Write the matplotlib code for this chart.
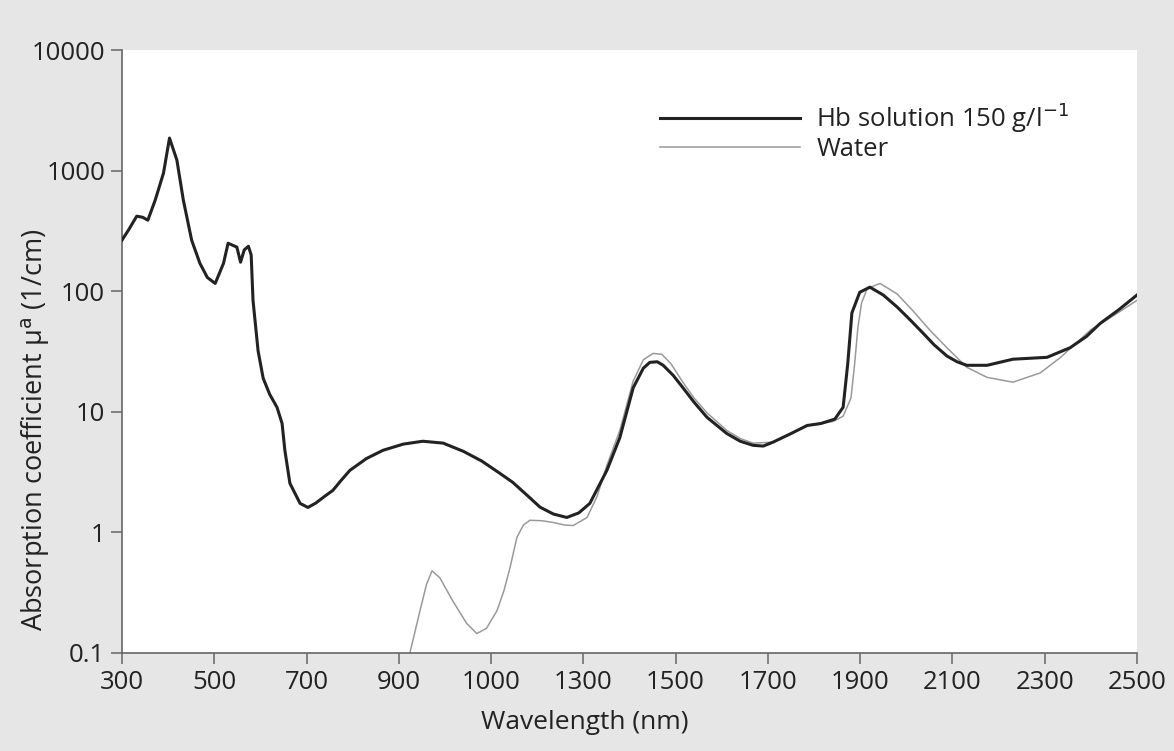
import matplotlib
matplotlib.use("Agg")
import matplotlib.pyplot as plt

plt.rcParams['font.family'] = ['Open Sans', 'DejaVu Sans']

# Hb solution 150 g/l^-1
hb_wl = [300, 314, 332, 345, 356, 372, 390, 403, 419, 433, 451, 469, 485, 502,
         520, 530, 549, 557, 565, 574, 580, 584, 595, 606, 620, 636, 647, 653,
         664, 686, 703, 720, 740, 757, 775, 794, 830, 866, 910, 952, 996, 1040,
         1080, 1119, 1147, 1180, 1206, 1235, 1264, 1290, 1314, 1351, 1379, 1408,
         1430, 1444, 1460, 1473, 1495, 1516, 1540, 1568, 1611, 1640, 1668,
         1690, 1711, 1750, 1785, 1815, 1845, 1863, 1873, 1882, 1899, 1921, 1950,
         1980, 2010, 2036, 2060, 2088, 2110, 2131, 2175, 2231, 2305, 2355, 2390,
         2420, 2460, 2500]
hb_mu = [265, 321, 419, 410, 388, 569, 955, 1862, 1222, 569, 265, 170, 130, 116,
         170, 250, 232, 174, 220, 236, 200, 84, 32, 19, 14, 10.9, 8.0, 4.8,
         2.55, 1.74, 1.61, 1.75, 2.0, 2.23, 2.7, 3.27, 4.1, 4.8, 5.4, 5.7, 5.5, 4.7,
         3.9, 3.09, 2.6, 2.0, 1.62, 1.42, 1.33, 1.45, 1.74, 3.27, 6.1, 15.8,
         23, 25.7, 26, 24.3, 20, 15.8, 12, 9.0, 6.6, 5.7, 5.27,
         5.2, 5.6, 6.6, 7.7, 8.0, 8.7, 10.9, 25, 66, 98, 108, 93,
         74, 57, 45, 36, 29, 26, 24.3, 24.3, 27.3, 28.3, 34, 42,
         54, 70, 93]

# Water
w_wl = [900, 924, 946, 960, 972, 989, 1017, 1047, 1069, 1090, 1113, 1128, 1141,
        1156, 1170, 1184, 1210, 1234, 1260, 1278, 1308, 1330, 1351, 1379, 1408,
        1430, 1451, 1470, 1490, 1516, 1540, 1568, 1611, 1640, 1668, 1711, 1785,
        1841, 1863, 1880, 1888, 1895, 1903, 1915, 1943, 1980, 2014, 2050, 2088,
        2131, 2175, 2231, 2290, 2333, 2400, 2450, 2500]
w_mu = [0.05, 0.1, 0.225, 0.37, 0.48, 0.42, 0.27, 0.176, 0.145, 0.16, 0.225, 0.33, 0.51,
        0.91, 1.15, 1.26, 1.25, 1.21, 1.15, 1.14, 1.33, 2.0, 3.6, 7.0, 18,
        27, 30.5, 30, 25, 17.5, 13, 9.8, 7.0, 6.0, 5.5, 5.6, 7.7,
        8.3, 9.2, 13, 25, 50, 80, 105, 116, 95, 69, 48, 34,
        23.4, 19.3, 17.6, 21, 28, 48, 63, 84]

x_ticks = [300, 500, 700, 900, 1100, 1300, 1500, 1700, 1900, 2100, 2300, 2500]
x_labels = ['300', '500', '700', '900', '1000', '1300', '1500', '1700', '1900',
            '2100', '2300', '2500']
y_ticks = [0.1, 1, 10, 100, 1000, 10000]
y_labels = ['0.1', '1', '10', '100', '1000', '10000']

fig = plt.figure(figsize=(11.74, 7.51), dpi=100, facecolor='#e6e6e6')
ax = fig.add_axes([0.1039, 0.1305, 0.8646, 0.8029])
ax.set_facecolor('white')

ax.plot(w_wl, w_mu, color='#9a9a9a', lw=1.1, label='Water', zorder=2)
ax.plot(hb_wl, hb_mu, color='#222222', lw=2.2, label='Hb solution 150 g/l$^{-1}$', zorder=3)

ax.set_yscale('log')
ax.set_xlim(300, 2500)
ax.set_ylim(0.1, 10000)
ax.set_xticks(x_ticks)
ax.set_xticklabels(x_labels)
ax.set_yticks(y_ticks)
ax.set_yticklabels(y_labels)
ax.yaxis.set_minor_locator(matplotlib.ticker.NullLocator())

for s in ['top', 'right']:
    ax.spines[s].set_visible(False)
for s in ['left', 'bottom']:
    ax.spines[s].set_color('#666666')
    ax.spines[s].set_linewidth(1.2)
ax.tick_params(axis='both', direction='out', length=8, width=1.1, color='#666666',
               labelsize=18.5, labelcolor='#222222', pad=4)

ax.set_xlabel('Wavelength (nm)', fontsize=19, color='#222222')
ax.xaxis.set_label_coords(0.456, -0.094)
ax.set_ylabel('Absorption coefficient μ$^{\\mathrm{a}}$ (1/cm)', fontsize=19.5,
              color='#222222')
ax.yaxis.set_label_coords(-0.069, 0.37)

handles, labels = ax.get_legend_handles_labels()
leg = ax.legend(handles[::-1], labels[::-1], loc='upper left',
                bbox_to_anchor=(0.507, 0.955), frameon=False, fontsize=18.5,
                handlelength=5.45, handletextpad=0.65, labelspacing=0.08,
                labelcolor='#222222')

fig.savefig('out.png', dpi=100, facecolor=fig.get_facecolor())
